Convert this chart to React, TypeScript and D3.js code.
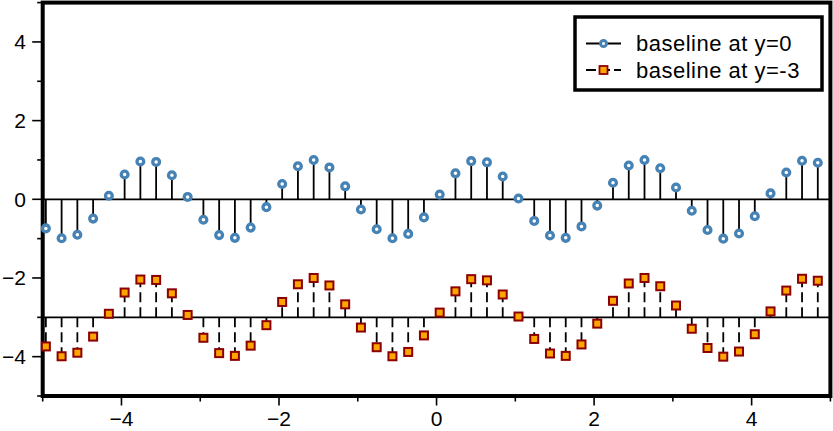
import React from "react";
import * as d3 from "d3";

const xs = [
  -4.96, -4.76, -4.56, -4.36, -4.16, -3.96, -3.76, -3.56, -3.36, -3.16,
  -2.96, -2.76, -2.56, -2.36, -2.16, -1.96, -1.76, -1.56, -1.36, -1.16,
  -0.96, -0.76, -0.56, -0.36, -0.16, 0.04, 0.24, 0.44, 0.64, 0.84,
  1.04, 1.24, 1.44, 1.64, 1.84, 2.04, 2.24, 2.44, 2.64, 2.84,
  3.04, 3.24, 3.44, 3.64, 3.84, 4.04, 4.24, 4.44, 4.64, 4.84,
];

const seriesA = [
  -0.74, -0.99, -0.9, -0.49, 0.09, 0.63, 0.96, 0.95, 0.61, 0.06,
  -0.52, -0.91, -0.98, -0.72, -0.2, 0.39, 0.84, 1.0, 0.81, 0.33,
  -0.26, -0.76, -0.99, -0.88, -0.46, 0.12, 0.66, 0.97, 0.94, 0.58,
  0.02, -0.55, -0.92, -0.98, -0.69, -0.16, 0.42, 0.86, 1.0, 0.79,
  0.3, -0.29, -0.78, -1.0, -0.87, -0.43, 0.15, 0.68, 0.98, 0.93,
];

const seriesB = [
  -3.74, -3.99, -3.9, -3.49, -2.91, -2.37, -2.04, -2.05, -2.39, -2.94,
  -3.52, -3.91, -3.98, -3.72, -3.2, -2.61, -2.16, -2.0, -2.19, -2.67,
  -3.26, -3.76, -3.99, -3.88, -3.46, -2.88, -2.34, -2.03, -2.06, -2.42,
  -2.98, -3.55, -3.92, -3.98, -3.69, -3.16, -2.58, -2.14, -2.0, -2.21,
  -2.7, -3.29, -3.78, -4.0, -3.87, -3.43, -2.85, -2.32, -2.02, -2.07,
];

const baselineA = 0;
const baselineB = -3;
const majorTicks = [-4, -2, 0, 2, 4];
const minorTicks = [-5, -4, -3, -2, -1, 0, 1, 2, 3, 4, 5];
const legendLabels = ["baseline at y=0", "baseline at y=-3"];

const W = 833;
const H = 431;
const FONT = "'Liberation Sans', Arial, Helvetica, sans-serif";
const BLUE = "#4682B4";
const ORANGE = "#FFA500";
const DARKRED = "#8B0000";

export default function App() {
  const x = d3.scaleLinear().domain([-5, 5]).range([42.7, 830.4]);
  const y = d3.scaleLinear().domain([-5, 5]).range([396, 2.6]);
  const fmt = (v: number) => (v < 0 ? "\u2212" + Math.abs(v) : String(v));
  const sq = 8;

  return (
    <svg
      width={W}
      height={H}
      style={{ position: "absolute", left: 0, top: 0, background: "#fff" }}
      fontFamily={FONT}
    >
      <rect x={0} y={0} width={W} height={H} fill="#fff" />
      {/* baselines */}
      <line x1={x(-5)} x2={x(5)} y1={y(baselineA)} y2={y(baselineA)} stroke="#000" strokeWidth={1.8} />
      <line x1={x(-5)} x2={x(5)} y1={y(baselineB)} y2={y(baselineB)} stroke="#000" strokeWidth={1.8} />
      {/* stems A */}
      {xs.map((xv, i) => (
        <line key={"sa" + i} x1={x(xv)} x2={x(xv)} y1={y(baselineA)} y2={y(seriesA[i])} stroke="#000" strokeWidth={1.8} />
      ))}
      {/* stems B dashed */}
      {xs.map((xv, i) => (
        <line key={"sb" + i} x1={x(xv)} x2={x(xv)} y1={y(baselineB)} y2={y(seriesB[i])} stroke="#000" strokeWidth={1.8} strokeDasharray="10,5" />
      ))}
      {/* ticks left */}
      {minorTicks.map((t) => (
        <line key={"ly" + t} x1={x(-5) - (majorTicks.includes(t) ? 10.5 : 5.5)} x2={x(-5)} y1={y(t)} y2={y(t)} stroke="#000" strokeWidth={1.6} />
      ))}
      {minorTicks.map((t) => (
        <line key={"bx" + t} y1={y(-5)} y2={y(-5) + (majorTicks.includes(t) ? 9.5 : 5.5)} x1={x(t)} x2={x(t)} stroke="#000" strokeWidth={1.6} />
      ))}
      {majorTicks.map((t) => (
        <text key={"yl" + t} x={26} y={y(t) + 7.5} textAnchor="end" fontSize={21} fill="#000">
          {fmt(t)}
        </text>
      ))}
      {majorTicks.map((t) => (
        <text key={"xl" + t} x={x(t)} y={425.5} textAnchor="middle" fontSize={21} fill="#000">
          {fmt(t)}
        </text>
      ))}
      {/* frame */}
      <rect x={x(-5)} y={y(5)} width={x(5) - x(-5)} height={y(-5) - y(5)} fill="none" stroke="#000" strokeWidth={4} />
      {/* symbols A */}
      {xs.map((xv, i) => (
        <circle key={"ca" + i} cx={x(xv)} cy={y(seriesA[i])} r={3.4} fill="#fff" stroke={BLUE} strokeWidth={3.3} />
      ))}
      {/* symbols B */}
      {xs.map((xv, i) => (
        <rect key={"rb" + i} x={x(xv) - sq / 2} y={y(seriesB[i]) - sq / 2} width={sq} height={sq} fill={ORANGE} stroke={DARKRED} strokeWidth={2} />
      ))}
      {/* legend */}
      <g>
        <rect x={575} y={17} width={247} height={73} fill="#fff" stroke="#000" strokeWidth={3.5} />
        <line x1={586} x2={621} y1={43.5} y2={43.5} stroke="#000" strokeWidth={1.8} />
        <circle cx={603.5} cy={43.5} r={3} fill="#fff" stroke={BLUE} strokeWidth={3} />
        <text x={636} y={51} fontSize={22} letterSpacing={0.5} fill="#000">{legendLabels[0]}</text>
        <line x1={586} x2={621} y1={70} y2={70} stroke="#000" strokeWidth={1.8} strokeDasharray="10,4" />
        <rect x={603.5 - 4} y={70 - 4} width={8} height={8} fill={ORANGE} stroke={DARKRED} strokeWidth={1.8} />
        <text x={636} y={77.5} fontSize={22} letterSpacing={0.5} fill="#000">{legendLabels[1]}</text>
      </g>
    </svg>
  );
}
